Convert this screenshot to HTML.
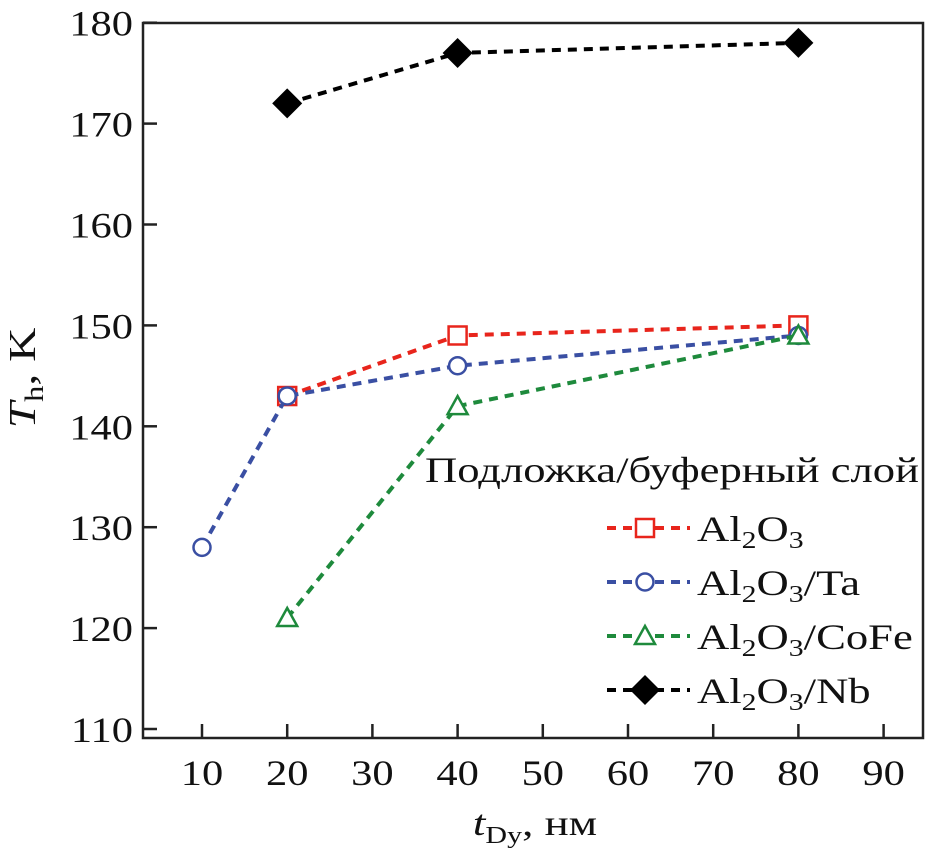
<!DOCTYPE html>
<html><head><meta charset="utf-8"><style>
body{margin:0;background:#fff}
svg text{font-family:"Liberation Serif",serif;fill:#111}
</style></head><body>
<svg id="chart" width="925" height="857" xmlns="http://www.w3.org/2000/svg">
<rect x="143" y="23" width="780" height="715" fill="none" stroke="#222" stroke-width="2.5"/>
<g id="axes"></g>
<g id="series"></g>
<text transform="translate(35,378) rotate(-90) scale(1.25,1)" text-anchor="middle" font-size="38"><tspan font-style="italic">T</tspan><tspan font-size="26" dy="8">h</tspan><tspan dy="-8">, K</tspan></text>
<text transform="translate(535,835) scale(1.25,1)" text-anchor="middle" font-size="36"><tspan font-style="italic">t</tspan><tspan font-size="24" dy="8">Dy</tspan><tspan dy="-8">, нм</tspan></text>
<g id="legend">
<text transform="translate(425,482) scale(1.24,1)" font-size="36">Подложка/буферный слой</text>
</g>
</svg>
<script>
const xTicks=[10,20,30,40,50,60,70,80,90];
const yTicks=[110,120,130,140,150,160,170,180];
const xAl=[20,40,80], yAl=[143,149,150];
const xTa=[10,20,40,80], yTa=[128,143,146,149];
const xCo=[20,40,80], yCo=[121,142,149];
const xNb=[20,40,80], yNb=[172,177,178];
const X=v=>202+(v-10)*8.52, Y=v=>729-(v-110)*10.09;
const NS="http://www.w3.org/2000/svg";
function mk(t,a,p){const e=document.createElementNS(NS,t);for(const k in a)e.setAttribute(k,a[k]);p.appendChild(e);return e;}
const ax=document.getElementById('axes');
xTicks.forEach(v=>{const l=mk('line',{x1:X(v),x2:X(v),y1:738,y2:724,stroke:'#222','stroke-width':2.5},ax);


const t=mk('text',{transform:`translate(${X(v)},785) scale(1.18,1)`,'text-anchor':'middle','font-size':36},ax);t.textContent=v;

});
yTicks.forEach(v=>{const l=mk('line',{x1:143,x2:157,y1:Y(v),y2:Y(v),stroke:'#222','stroke-width':2.5},ax);


const t=mk('text',{transform:`translate(133,${Y(v)+13}) scale(1.18,1)`,'text-anchor':'end','font-size':36},ax);t.textContent=v;

});
const sg=document.getElementById('series'), lg=document.getElementById('legend');
function marker(type,cx,cy,col,p){let e;
if(type==='sq')e=mk('rect',{x:cx-9,y:cy-9,width:18,height:18,fill:'#fff',stroke:col,'stroke-width':2.5},p);
else if(type==='ci')e=mk('circle',{cx:cx,cy:cy,r:8.5,fill:'#fff',stroke:col,'stroke-width':2.5},p);
else if(type==='tr')e=mk('polygon',{points:`${cx},${cy-10} ${cx+10},${cy+8} ${cx-10},${cy+8}`,fill:'#fff',stroke:col,'stroke-width':2.5},p);
else e=mk('polygon',{points:`${cx},${cy-15} ${cx+15},${cy} ${cx},${cy+15} ${cx-15},${cy}`,fill:'#000'},p);
return e;}
const S=[
{xs:xAl,ys:yAl,col:'#e8251c',m:'sq',lab:'Al<tspan font-size="24" dy="7">2</tspan><tspan dy="-7">O</tspan><tspan font-size="24" dy="7">3</tspan>',ly:528,n:'al2o3'},
{xs:xTa,ys:yTa,col:'#3a4fa3',m:'ci',lab:'Al<tspan font-size="24" dy="7">2</tspan><tspan dy="-7">O</tspan><tspan font-size="24" dy="7">3</tspan><tspan dy="-7">/Ta</tspan>',ly:582,n:'al2o3-ta'},
{xs:xCo,ys:yCo,col:'#1e8a3c',m:'tr',lab:'Al<tspan font-size="24" dy="7">2</tspan><tspan dy="-7">O</tspan><tspan font-size="24" dy="7">3</tspan><tspan dy="-7">/CoFe</tspan>',ly:636,n:'al2o3-cofe'},
{xs:xNb,ys:yNb,col:'#000',m:'di',lab:'Al<tspan font-size="24" dy="7">2</tspan><tspan dy="-7">O</tspan><tspan font-size="24" dy="7">3</tspan><tspan dy="-7">/Nb</tspan>',ly:690,n:'al2o3-nb'}];
S.forEach(s=>{
const pl=mk('polyline',{points:s.xs.map((x,i)=>X(x)+','+Y(s.ys[i])).join(' '),fill:'none',stroke:s.col,'stroke-width':4,'stroke-dasharray':'9,7'},sg);


s.xs.forEach((x,i)=>{const e=marker(s.m,X(x),Y(s.ys[i]),s.col,sg);

});
const ll=mk('line',{x1:607,x2:690,y1:s.ly,y2:s.ly,stroke:s.col,'stroke-width':4,'stroke-dasharray':'9,7'},lg);


const lm=marker(s.m,645,s.ly,s.col,lg);


const t=mk('text',{transform:`translate(697,${s.ly+13}) scale(1.24,1)`,'font-size':36},lg);t.innerHTML=s.lab;


});
</script>
</body></html>
